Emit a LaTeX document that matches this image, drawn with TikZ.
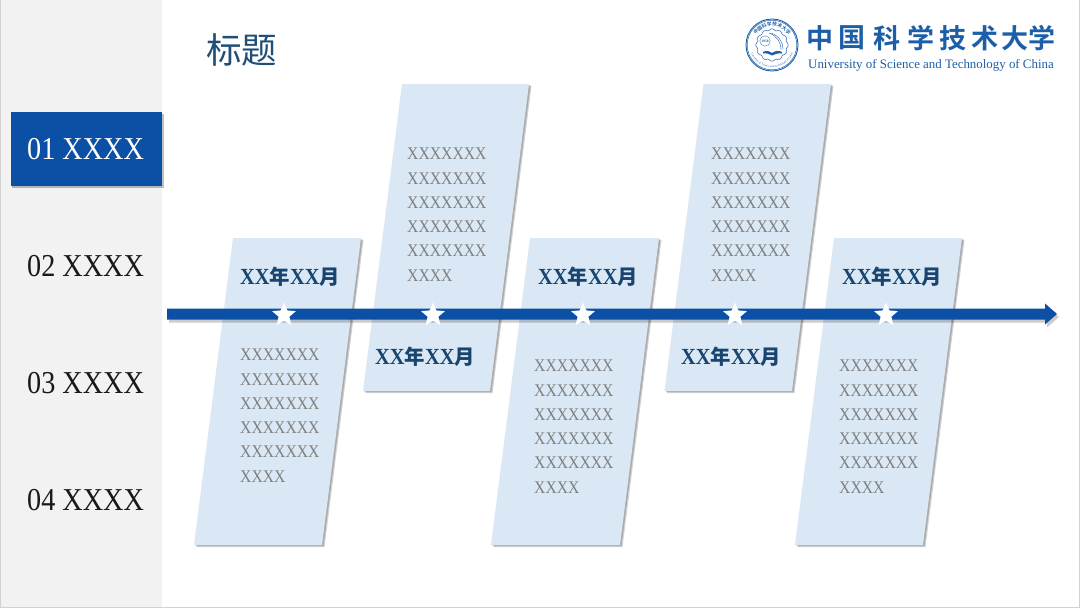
\documentclass[tikz,border=0pt]{standalone}
\usepackage{graphicx}
\usepackage{fontspec}
\setmainfont{Liberation Serif}
\newfontfamily\cjk{Noto Sans CJK SC}
\newfontfamily\cjkb{Noto Sans CJK SC Bold}
\usetikzlibrary{shapes.geometric,decorations.text}
\definecolor{ustcblue}{HTML}{0B50A5}
\definecolor{panelblue}{HTML}{DAE8F5}
\definecolor{headblue}{HTML}{17456F}
\definecolor{titleblue}{HTML}{1F4E79}
\definecolor{sidegray}{HTML}{F2F2F2}
\definecolor{logoblue}{HTML}{1C5FA8}
\definecolor{bodygray}{HTML}{7F7F7F}
\tikzset{
  x=1pt,y=-1pt,
  panel/.style={fill=panelblue,draw=none},
  shadowgray/.style={fill=black,opacity=0.18,draw=none},
  bodytext/.style={anchor=north west,inner sep=0pt,align=left,text=bodygray,font=\fontsize{15.7}{24.25}\selectfont},
  headtext/.style={anchor=west,inner sep=0pt,text=headblue,font=\fontsize{20.4}{24}\selectfont\bfseries},
  navtext/.style={anchor=west,inner sep=0pt,text=black!90,font=\fontsize{28.2}{30}\selectfont},
  starnode/.style={star,star points=5,star point ratio=2.2,fill=white,draw=none,minimum size=25pt,inner sep=0pt},
  logochar/.style={inner sep=0pt,text=logoblue,font=\fontsize{27}{30}\selectfont\cjkb},
}
\newcommand{\tall}[1]{\scalebox{1}[1.13]{#1}}
\newcommand{\xhead}{\tall{XX}{\cjkb 年}\tall{XX}{\cjkb 月}}
\newcommand{\xbody}{\tall{XXXXXXX}\\\tall{XXXXXXX}\\\tall{XXXXXXX}\\\tall{XXXXXXX}\\\tall{XXXXXXX}\\\tall{XXXX}}
\newcommand{\panelshape}[3]{%
  \fill[shadowgray] (#1+2.5,#2+2) -- ++(#3,0) -- ++(-39,307) -- ++(-#3,0) -- cycle;
  \fill[shadowgray] (#1+1.5,#2+1) -- ++(#3,0) -- ++(-39,307) -- ++(-#3,0) -- cycle;
  \fill[panel] (#1,#2) -- ++(#3,0) -- ++(-39,307) -- ++(-#3,0) -- cycle;
}
\begin{document}
\begin{tikzpicture}
\useasboundingbox (0,0) rectangle (1080,608);
\fill[white] (0,0) rectangle (1080,608);
\fill[sidegray] (0,0) rectangle (162,608);
\draw[gray!35,line width=1pt] (0.5,0) -- (0.5,607.5) -- (1079,607.5) -- (1079,0);
% title
\node[anchor=west,inner sep=0pt,text=titleblue,font=\fontsize{35.5}{36}\selectfont\cjk] (title) at (206,50) {标题};
% nav
\fill[black,opacity=0.25] (12,114) rectangle (164,188);
\node[fill=ustcblue,minimum width=151pt,minimum height=74pt,inner sep=0pt,anchor=north west] (navbox) at (11,112) {};
\node[navtext,text=white] (nav1) at (27,149) {\tall{01 XXXX}};
\node[navtext] (nav2) at (27,266) {\tall{02 XXXX}};
\node[navtext] (nav3) at (27,383) {\tall{03 XXXX}};
\node[navtext] (nav4) at (27,500) {\tall{04 XXXX}};
% panels
\panelshape{233}{238}{128}
\panelshape{402}{84}{127}
\panelshape{530}{238}{129}
\panelshape{703.5}{84}{127.5}
\panelshape{834}{238}{128}
% arrow
\coordinate (as) at (167,314);
\coordinate (ae) at (1057,314);
\coordinate (ass) at (169,317);
\coordinate (aes) at (1059,317);
\fill[black,opacity=0.2] (ass) ++(0,-5.5) -- ++(878,0) -- ++(0,-5) -- (aes) -- ++(-12,10.5) -- ++(0,-5) -- ++(-878,0) -- cycle;
\fill[ustcblue] (as) ++(0,-5.5) -- ++(878,0) -- ++(0,-5) -- (ae) -- ++(-12,10.5) -- ++(0,-5) -- ++(-878,0) -- cycle;
% stars
\node[starnode] (s1) at (284,315) {};
\node[starnode] (s2) at (433,315) {};
\node[starnode] (s3) at (583,315) {};
\node[starnode] (s4) at (735,315) {};
\node[starnode] (s5) at (886,315) {};
% heads
\node[headtext] (h1) at (240,277) {\xhead};
\node[headtext] (h2) at (375,357) {\xhead};
\node[headtext] (h3) at (538,277) {\xhead};
\node[headtext] (h4) at (681,357) {\xhead};
\node[headtext] (h5) at (842,277) {\xhead};
% bodies
\node[bodytext] (b1) at (240,349) {\xbody};
\node[bodytext] (b2) at (407,148) {\xbody};
\node[bodytext] (b3) at (534,360) {\xbody};
\node[bodytext] (b4) at (711,148) {\xbody};
\node[bodytext] (b5) at (839,360) {\xbody};
% logo
\coordinate (lc) at (772,45);
\draw[logoblue,line width=0.9pt] (lc) circle (26);
\draw[logoblue,line width=0.5pt] (lc) circle (24.8);
\draw[logoblue,line width=0.5pt,fill=white] plot[domain=0:360,samples=121,smooth] ({772+(15.5+0.7*cos(12*\x))*cos(\x)},{45+(15.5+0.7*cos(12*\x))*sin(\x)});
\path[decorate,decoration={text along path,text align=center,text={|\fontsize{4.8}{5}\selectfont\cjkb\color{logoblue}|中国科学技术大学}}] (753,45) arc[start angle=180,end angle=0,radius=19pt];
\path[decorate,decoration={text along path,text align=center,text={|\fontsize{2.8}{4}\selectfont\color{logoblue}|University of Science and Technology of China}}] (749.5,45) arc[start angle=180,end angle=360,radius=22.5pt];
\node[inner sep=0pt,text=logoblue,font=\fontsize{3.6}{5}\selectfont\bfseries] (l1958) at (765,41) {1958};
\draw[logoblue,line width=0.3pt] (765,41) circle (5.2);
\draw[logoblue,line width=0.4pt] (769,33) .. controls (777,36) and (781,42) .. (781,50);
\draw[logoblue,line width=0.4pt] (771,33) .. controls (779,36) and (783,42) .. (783,49);
\fill[logoblue] (763,52) .. controls (767,50) and (770,51) .. (772,53) .. controls (775,51) and (778,50) .. (782,52) -- (782,53.5) .. controls (778,53) and (775,54) .. (772,55.5) .. controls (770,54) and (767,53) .. (763,53.5) -- cycle;
\node[logochar] (c1) at (820,38) {中};
\node[logochar] (c2) at (852,38) {国};
\node[logochar] (c3) at (887,38) {科};
\node[logochar] (c4) at (921,38) {学};
\node[logochar] (c5) at (953,38) {技};
\node[logochar] (c6) at (985,38) {术};
\node[logochar] (c7) at (1015,38) {大};
\node[logochar] (c8) at (1042,38) {学};
\node[anchor=west,inner sep=0pt,text=logoblue,font=\fontsize{12.9}{14}\selectfont] (uname) at (808,65.5) {University of Science and Technology of China};
\end{tikzpicture}
\end{document}
